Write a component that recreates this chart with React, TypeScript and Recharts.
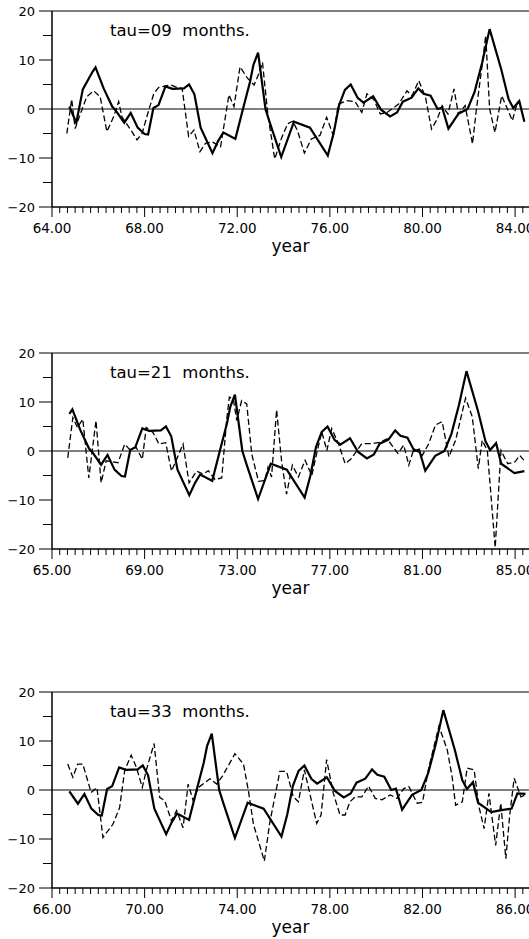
import React from 'react';
import { LineChart, Line, XAxis, YAxis, ReferenceLine } from 'recharts';

const FONT = '"DejaVu Sans", Verdana, sans-serif';

// observed series (solid line)
const obsYears = [
  64.75, 65.05, 65.33, 65.75, 65.88, 66.23, 66.6, 66.75, 67.12, 67.4, 67.7, 68.0, 68.15, 68.38, 68.6, 68.9,
  69.2, 69.7, 69.92, 70.15, 70.42, 70.93, 71.18, 71.4, 71.92, 72.23, 72.55, 72.7, 72.9, 73.22, 73.42, 73.9,
  74.45, 75.14, 75.91, 76.16, 76.4, 76.65, 76.9, 77.2, 77.45, 77.87, 78.22, 78.6, 78.9, 79.15, 79.53, 79.82,
  80.05, 80.35, 80.65, 80.85, 81.12, 81.55, 81.95, 82.25, 82.58, 82.9, 83.4, 83.72, 83.92, 84.18, 84.4, 84.97,
  85.4, 85.85, 86.1, 86.45,
];
const obsValues = [
  0.5, -2.8, 4, 7.6, 8.5, 4.2, 0.5, -0.3, -2.8, -0.8, -3.8, -5.1, -5.2, 0.2, 0.8, 4.6,
  4.1, 4.2, 5, 3, -3.8, -9, -6.5, -4.8, -6.1, -0.3, 5.5, 9, 11.5, 0, -3, -9.8,
  -2.6, -3.8, -9.5, -5, 0.8, 3.9, 5, 2.3, 1.3, 2.6, -0.2, -1.5, -0.7, 1.5, 2.3, 4.2,
  3.1, 2.7, 0, 0.3, -4, -1, 0, 3.5, 9.5, 16.3, 8.1, 2, 0.2, 1.6, -2.6, -4.5,
  -4.1, -3.8, -0.7, -0.8,
];

// forecast, tau = 9 months (dashed)
const f09Years = [
  64.64, 64.85, 65.0, 65.21, 65.5, 65.8, 66.08, 66.37, 66.66, 66.88, 67.02, 67.45, 67.67, 67.89, 68.18, 68.4,
  68.61, 69.12, 69.4, 69.62, 69.9, 70.13, 70.39, 70.63, 70.92, 71.28, 71.64, 71.86, 72.12, 72.44, 72.73, 72.94,
  73.09, 73.33, 73.62, 73.9, 74.18, 74.4, 74.6, 74.9, 75.2, 75.57, 75.86, 76.15, 76.37, 76.73, 77.09, 77.38,
  77.6, 77.89, 78.18, 78.47, 78.97, 79.33, 79.55, 79.84, 80.13, 80.39, 80.64, 80.85, 81.1, 81.36, 81.55, 81.84,
  82.16, 82.33, 82.59, 82.73, 82.9, 83.13, 83.42, 83.67, 83.88, 84.1, 84.25,
];
const f09Values = [
  -5, 2, -4, -1.2, 2.5, 3.7, 2.5, -4.6, -1.6, 1.5, -1.6, -4.6, -6.3, -5, -0.2, 3.2,
  4.4, 4.9, 4.4, 4.2, -5.6, -4.3, -8.7, -7, -6.7, -7.7, 2.9, 0.5, 8.6, 6.3, 4.9, 7.3,
  9.5, -1.4, -10.2, -6.1, -3, -2.5, -4.4, -9, -6.1, -5.4, -1.7, -5.4, 1, 1.7, 1.5, -0.7,
  3.1, 2, -1, -0.7, 1, 3.7, 2.7, 5.8, 2.4, -4.1, -2, 0.7, -1, 4.1, -1, 0.7,
  -7.1, 0, 9.5, 15, 0, -4.8, 2.7, 0, -2.4, 1.4, 1.0,
];

// forecast, tau = 21 months (dashed)
const f21Years = [
  65.68, 65.9, 66.1, 66.33, 66.59, 66.9, 67.12, 67.34, 67.85, 68.14, 68.35, 68.64, 68.9, 69.07, 69.36, 69.62,
  69.91, 70.16, 70.66, 70.92, 71.24, 71.53, 71.75, 72.04, 72.33, 72.54, 72.66, 72.83, 72.98, 73.19, 73.41, 73.63,
  73.92, 74.19, 74.33, 74.48, 74.7, 74.92, 75.13, 75.38, 75.64, 75.93, 76.22, 76.43, 76.65, 76.87, 77.08, 77.37,
  77.66, 77.92, 78.38, 78.82, 79.18, 79.47, 79.94, 80.19, 80.41, 80.63, 80.99, 81.27, 81.56, 81.85, 82.14, 82.43,
  82.86, 83.15, 83.41, 83.58, 83.8, 84.14, 84.39, 84.68, 85.0, 85.2, 85.4,
];
const f21Values = [
  -1.4, 6.8, 4.8, 6.5, -5.5, 6.2, -6.5, -2, -2.4, 1.4, 0.3, 0.7, -1.7, 4.8, 3.8, 1.4,
  1.7, -4.1, 1.4, -6.5, -4.1, -4.7, -4, -5.8, -5.5, 6.2, 11, 10.6, 6.2, 10.3, 9.6, -0.7,
  -6.2, -6, -3.3, -5.3, 8.4, -2.3, -8.8, -2.9, -5.3, -1.9, -5, -0.5, 3.9, 0.1, 4.6, 1.5,
  -2.6, -1.6, 1.5, 1.5, 1.8, 2.5, -0.5, 1.2, -2.9, 0.5, -0.9, 1.5, 5.3, 6, -1.2, 2.2,
  10.8, 7, -3.6, 2.2, 0.1, -19.7, 0.1, -2.6, -2.2, -0.9, -2,
];

// forecast, tau = 33 months (dashed)
const f33Years = [
  66.68, 66.9, 67.11, 67.33, 67.69, 67.94, 68.2, 68.63, 68.92, 69.14, 69.42, 69.64, 69.9, 70.07, 70.41, 70.65,
  70.87, 71.16, 71.38, 71.66, 71.88, 72.1, 72.32, 72.82, 73.11, 73.37, 73.9, 74.27, 74.48, 74.7, 75.17, 75.4,
  75.84, 76.13, 76.42, 76.64, 76.9, 77.43, 77.62, 77.86, 78.15, 78.44, 78.66, 78.87, 79.09, 79.38, 79.67, 79.96,
  80.25, 80.61, 80.9, 81.19, 81.41, 81.77, 82.0, 82.27, 82.71, 83.07, 83.28, 83.43, 83.72, 83.93, 84.23, 84.44,
  84.66, 84.87, 85.16, 85.38, 85.6, 85.77, 85.96, 86.25, 86.45,
];
const f33Values = [
  5.3, 2.6, 5.3, 5.3, -0.5, 0.5, -9.7, -7, -3.6, 4, 7.1, 4.7, 0.5, 4, 9.5, -1.5,
  -2.2, -6.3, -4.2, -7.7, 1.2, -2.2, 0.5, 2.3, 1.2, 2.9, 7.4, 5.3, -0.1, -7, -14.5, -6.8,
  3.8, 3.8, -1.4, -2.4, 4.1, -6.8, -5.1, 6.2, -0.7, -5.1, -5.1, -2.4, -1.4, -1.4, 0.8, -1.7,
  -2, -1, -1.7, 0.3, 0.7, -2.7, -2.5, 4.5, 13, 8.2, 2.7, -3.1, -2.4, 4.5, 4.1, -3.4,
  -7.9, -0.7, -11.3, -2.7, -14, -5, 2.4, -1.4, -1,
];

// axis ticks
const yTicks = [-20, -15, -10, -5, 0, 5, 10, 15, 20];
const yMajor = [-20, -10, 0, 10, 20];
const xMajor09 = [64, 68, 72, 76, 80, 84];
const xMajor21 = [65, 69, 73, 77, 81, 85];
const xMajor33 = [66, 70, 74, 78, 82, 86];
const titles = ['tau=09  months.', 'tau=21  months.', 'tau=33  months.'];

const toPoints = (xs: number[], ys: number[]) => xs.map((x, i) => ({ x, y: ys[i] }));

const panels = [
  { title: titles[0], start: 64, end: 84.6, majors: xMajor09, fx: f09Years, fv: f09Values, obsFrom: 64.75, obsTo: 84.4, top: 0 },
  { title: titles[1], start: 65, end: 85.6, majors: xMajor21, fx: f21Years, fv: f21Values, obsFrom: 65.75, obsTo: 85.4, top: 342 },
  { title: titles[2], start: 66, end: 86.6, majors: xMajor33, fx: f33Years, fv: f33Values, obsFrom: 66.75, obsTo: 86.45, top: 681 },
];

const PLOT_TOP = 11;
const PLOT_H = 196;
const XAXIS_H = 50;

const fmtY = (v: number) => (v < 0 ? `\u2212${-v}` : `${v}`);

const YTick = (props: any) => {
  const { x, y, payload } = props;
  const v = payload.value;
  const major = yMajor.includes(v);
  return (
    <g>
      <line x1={x - (major ? 13 : 9)} x2={x} y1={y} y2={y} stroke="#000" strokeWidth={1} />
      {major && (
        <text x={x - 17} y={y} dy="0.36em" textAnchor="end" fontSize={13} fontFamily={FONT} fill="#000">
          {fmtY(v)}
        </text>
      )}
    </g>
  );
};

const makeXTick = (majors: number[]) => (props: any) => {
  const { x, y, payload } = props;
  const v = payload.value;
  const major = majors.some((m) => Math.abs(m - v) < 1e-6);
  return (
    <g>
      <line x1={x} x2={x} y1={y} y2={y + (major ? 10 : 6)} stroke="#000" strokeWidth={1} />
      {major && (
        <text x={x} y={y + 21} dy="0.36em" textAnchor="middle" fontSize={13.5} fontFamily={FONT} fill="#000">
          {v.toFixed(2)}
        </text>
      )}
    </g>
  );
};

const Panel = ({ p }: { p: (typeof panels)[number] }) => {
  const ticks: number[] = [];
  for (let i = 0; p.start + i / 3 <= p.end + 1e-9; i++) ticks.push(+(p.start + i / 3).toFixed(4));
  const obs = toPoints(obsYears, obsValues).filter((d) => d.x >= p.obsFrom - 0.01 && d.x <= p.obsTo + 0.01);
  const fc = toPoints(p.fx, p.fv);
  return (
    <div style={{ position: 'absolute', left: 0, top: p.top, width: 529, height: PLOT_TOP + PLOT_H + XAXIS_H }}>
      <LineChart
        width={529}
        height={PLOT_TOP + PLOT_H + XAXIS_H}
        margin={{ top: PLOT_TOP, right: 0, bottom: 0, left: 0 }}
      >
        <XAxis
          type="number"
          dataKey="x"
          domain={[p.start, p.end]}
          allowDataOverflow
          ticks={ticks}
          interval={0}
          tick={makeXTick(p.majors)}
          tickLine={false}
          tickSize={0}
          tickMargin={0}
          height={XAXIS_H}
          axisLine={{ stroke: '#000', strokeWidth: 1.5 }}
          label={{ value: 'year', position: 'insideBottom', offset: 5, fontSize: 17, fontFamily: FONT, fill: '#000' }}
        />
        <YAxis
          type="number"
          domain={[-20, 20]}
          ticks={yTicks}
          interval={0}
          width={52}
          tick={YTick}
          tickLine={false}
          tickSize={0}
          tickMargin={0}
          axisLine={{ stroke: '#000', strokeWidth: 1.5 }}
        />
        <ReferenceLine y={20} stroke="#000" strokeWidth={1} />
        <ReferenceLine y={0} stroke="#000" strokeWidth={1} />
        <Line
          data={fc}
          dataKey="y"
          type="linear"
          stroke="#000"
          strokeWidth={1.3}
          strokeDasharray="6 3"
          dot={false}
          isAnimationActive={false}
        />
        <Line
          data={obs}
          dataKey="y"
          type="linear"
          stroke="#000"
          strokeWidth={2.2}
          dot={false}
          isAnimationActive={false}
        />
      </LineChart>
      <div
        style={{
          position: 'absolute',
          left: 110,
          top: PLOT_TOP + 11,
          fontFamily: FONT,
          fontSize: 16.5,
          lineHeight: '17px',
          whiteSpace: 'pre',
          color: '#000',
        }}
      >
        {p.title}
      </div>
    </div>
  );
};

export default function App() {
  return (
    <div style={{ position: 'absolute', left: 0, top: 0, width: 529, height: 939, background: '#fff', overflow: 'hidden' }}>
      {panels.map((p, i) => (
        <Panel key={i} p={p} />
      ))}
    </div>
  );
}
